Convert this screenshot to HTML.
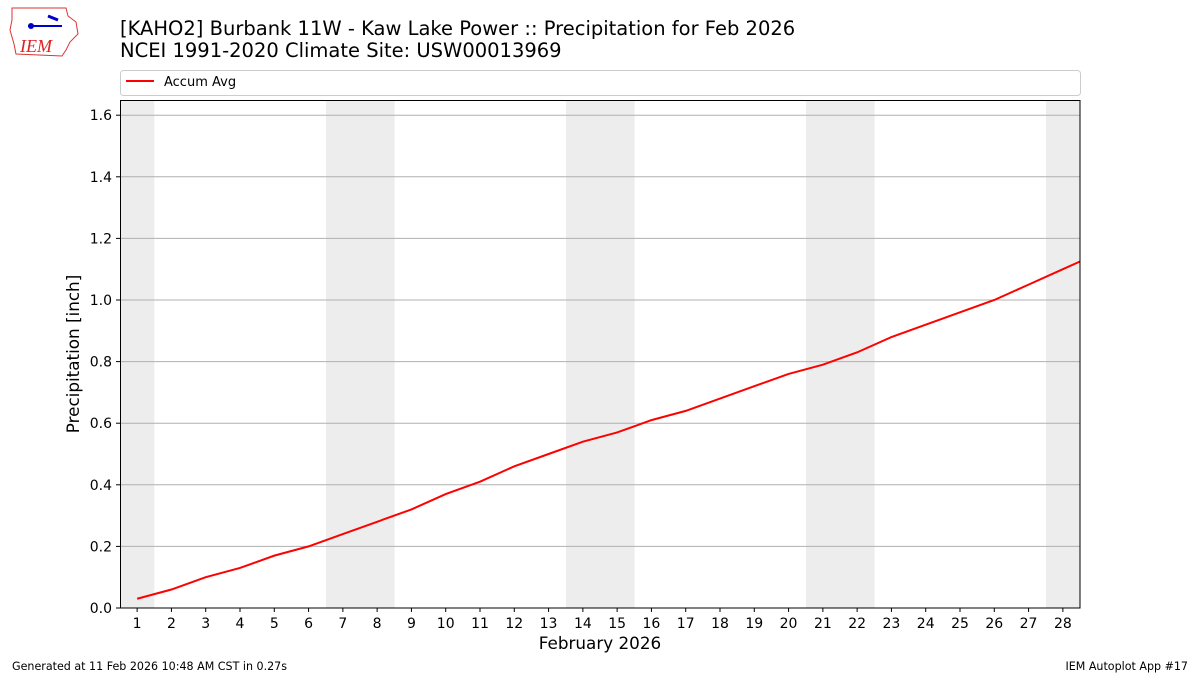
<!DOCTYPE html>
<html><head><meta charset="utf-8"><style>
body{margin:0;background:#fff;}
svg text{font-family:"DejaVu Sans","Liberation Sans",sans-serif;}
</style></head><body>
<svg width="1200" height="675" viewBox="0 0 1200 675" xmlns="http://www.w3.org/2000/svg">
<rect width="1200" height="675" fill="#fff"/>
<path d="M12,8 L66,8 L68,16 L76,22 L78,34 L70,42 L66,50 L62,56 L16,54 L14,44 L10,30 L12,20 Z" fill="none" stroke="#d33" stroke-width="1"/>
<line x1="28" y1="26" x2="62" y2="26" stroke="#00c" stroke-width="2"/>
<circle cx="31" cy="26" r="3" fill="#00c"/>
<path d="M48,16 L58,20" stroke="#00c" stroke-width="3"/>
<text x="20" y="52" font-size="18" fill="#d22" font-style="italic" style="font-family:'Liberation Serif',serif">IEM</text>
<text x="120" y="35" font-size="19.5" fill="#000">[KAHO2] Burbank 11W - Kaw Lake Power :: Precipitation for Feb 2026</text>
<text x="120" y="57" font-size="19.5" fill="#000">NCEI 1991-2020 Climate Site: USW00013969</text>
<rect x="120.5" y="70.5" width="960" height="25" rx="3" fill="#fff" stroke="#ccc"/>
<line x1="126" y1="81" x2="154" y2="81" stroke="red" stroke-width="2"/>
<text x="164" y="86" font-size="13">Accum Avg</text>
<g fill="#ededed">
<rect x="120" y="100" width="34.3" height="508"/>
<rect x="326" y="100" width="68.6" height="508"/>
<rect x="566" y="100" width="68.6" height="508"/>
<rect x="806" y="100" width="68.6" height="508"/>
<rect x="1046" y="100" width="34" height="508"/>
</g>
<g stroke="#b0b0b0" stroke-width="1">
<line x1="120" y1="546.4" x2="1080" y2="546.4"/>
<line x1="120" y1="484.8" x2="1080" y2="484.8"/>
<line x1="120" y1="423.2" x2="1080" y2="423.2"/>
<line x1="120" y1="361.6" x2="1080" y2="361.6"/>
<line x1="120" y1="300" x2="1080" y2="300"/>
<line x1="120" y1="238.4" x2="1080" y2="238.4"/>
<line x1="120" y1="176.8" x2="1080" y2="176.8"/>
<line x1="120" y1="115.2" x2="1080" y2="115.2"/>
</g>
<polyline fill="none" stroke="red" stroke-width="2" points="137.14,598.76 171.43,589.52 205.71,577.2 240,567.96 274.29,555.64 308.57,546.4 342.86,534.08 377.14,521.76 411.43,509.44 445.71,494.04 480,481.72 514.29,466.32 548.57,454 582.86,441.68 617.14,432.44 651.43,420.12 685.71,410.88 720,398.56 754.29,386.24 788.57,373.92 822.86,364.68 857.14,352.36 891.43,337.04 925.71,324.64 960,312.32 994.29,300 1028.57,284.6 1062.86,269.2 1080,261.5"/>
<rect x="120.5" y="100.5" width="959.5" height="507.5" fill="none" stroke="#000" stroke-width="1"/>
<g font-size="14" text-anchor="end">
<g stroke="#000"><line x1="116" y1="608" x2="120" y2="608"/><line x1="116" y1="546.4" x2="120" y2="546.4"/><line x1="116" y1="484.8" x2="120" y2="484.8"/><line x1="116" y1="423.2" x2="120" y2="423.2"/><line x1="116" y1="361.6" x2="120" y2="361.6"/><line x1="116" y1="300" x2="120" y2="300"/><line x1="116" y1="238.4" x2="120" y2="238.4"/><line x1="116" y1="176.8" x2="120" y2="176.8"/><line x1="116" y1="115.2" x2="120" y2="115.2"/></g>
<text x="112" y="613">0.0</text><text x="112" y="551.4">0.2</text><text x="112" y="489.8">0.4</text><text x="112" y="428.2">0.6</text><text x="112" y="366.6">0.8</text><text x="112" y="305">1.0</text><text x="112" y="243.4">1.2</text><text x="112" y="181.8">1.4</text><text x="112" y="120.2">1.6</text>
</g>
<text transform="translate(79,354) rotate(-90)" font-size="16.8" text-anchor="middle">Precipitation [inch]</text>
<g font-size="14" text-anchor="middle">
<g stroke="#000">
<line x1="137.14" y1="608" x2="137.14" y2="612"/><line x1="171.43" y1="608" x2="171.43" y2="612"/><line x1="205.71" y1="608" x2="205.71" y2="612"/><line x1="240" y1="608" x2="240" y2="612"/><line x1="274.29" y1="608" x2="274.29" y2="612"/><line x1="308.57" y1="608" x2="308.57" y2="612"/><line x1="342.86" y1="608" x2="342.86" y2="612"/><line x1="377.14" y1="608" x2="377.14" y2="612"/><line x1="411.43" y1="608" x2="411.43" y2="612"/><line x1="445.71" y1="608" x2="445.71" y2="612"/><line x1="480" y1="608" x2="480" y2="612"/><line x1="514.29" y1="608" x2="514.29" y2="612"/><line x1="548.57" y1="608" x2="548.57" y2="612"/><line x1="582.86" y1="608" x2="582.86" y2="612"/><line x1="617.14" y1="608" x2="617.14" y2="612"/><line x1="651.43" y1="608" x2="651.43" y2="612"/><line x1="685.71" y1="608" x2="685.71" y2="612"/><line x1="720" y1="608" x2="720" y2="612"/><line x1="754.29" y1="608" x2="754.29" y2="612"/><line x1="788.57" y1="608" x2="788.57" y2="612"/><line x1="822.86" y1="608" x2="822.86" y2="612"/><line x1="857.14" y1="608" x2="857.14" y2="612"/><line x1="891.43" y1="608" x2="891.43" y2="612"/><line x1="925.71" y1="608" x2="925.71" y2="612"/><line x1="960" y1="608" x2="960" y2="612"/><line x1="994.29" y1="608" x2="994.29" y2="612"/><line x1="1028.57" y1="608" x2="1028.57" y2="612"/><line x1="1062.86" y1="608" x2="1062.86" y2="612"/>
</g>
<text x="137.14" y="628">1</text><text x="171.43" y="628">2</text><text x="205.71" y="628">3</text><text x="240" y="628">4</text><text x="274.29" y="628">5</text><text x="308.57" y="628">6</text><text x="342.86" y="628">7</text><text x="377.14" y="628">8</text><text x="411.43" y="628">9</text><text x="445.71" y="628">10</text><text x="480" y="628">11</text><text x="514.29" y="628">12</text><text x="548.57" y="628">13</text><text x="582.86" y="628">14</text><text x="617.14" y="628">15</text><text x="651.43" y="628">16</text><text x="685.71" y="628">17</text><text x="720" y="628">18</text><text x="754.29" y="628">19</text><text x="788.57" y="628">20</text><text x="822.86" y="628">21</text><text x="857.14" y="628">22</text><text x="891.43" y="628">23</text><text x="925.71" y="628">24</text><text x="960" y="628">25</text><text x="994.29" y="628">26</text><text x="1028.57" y="628">27</text><text x="1062.86" y="628">28</text>
</g>
<text x="600" y="649" font-size="16.8" text-anchor="middle">February 2026</text>
<text x="12" y="670" font-size="11.1">Generated at 11 Feb 2026 10:48 AM CST in 0.27s</text>
<text x="1188" y="670" font-size="11.1" text-anchor="end">IEM Autoplot App #17</text>
</svg>
</body></html>
